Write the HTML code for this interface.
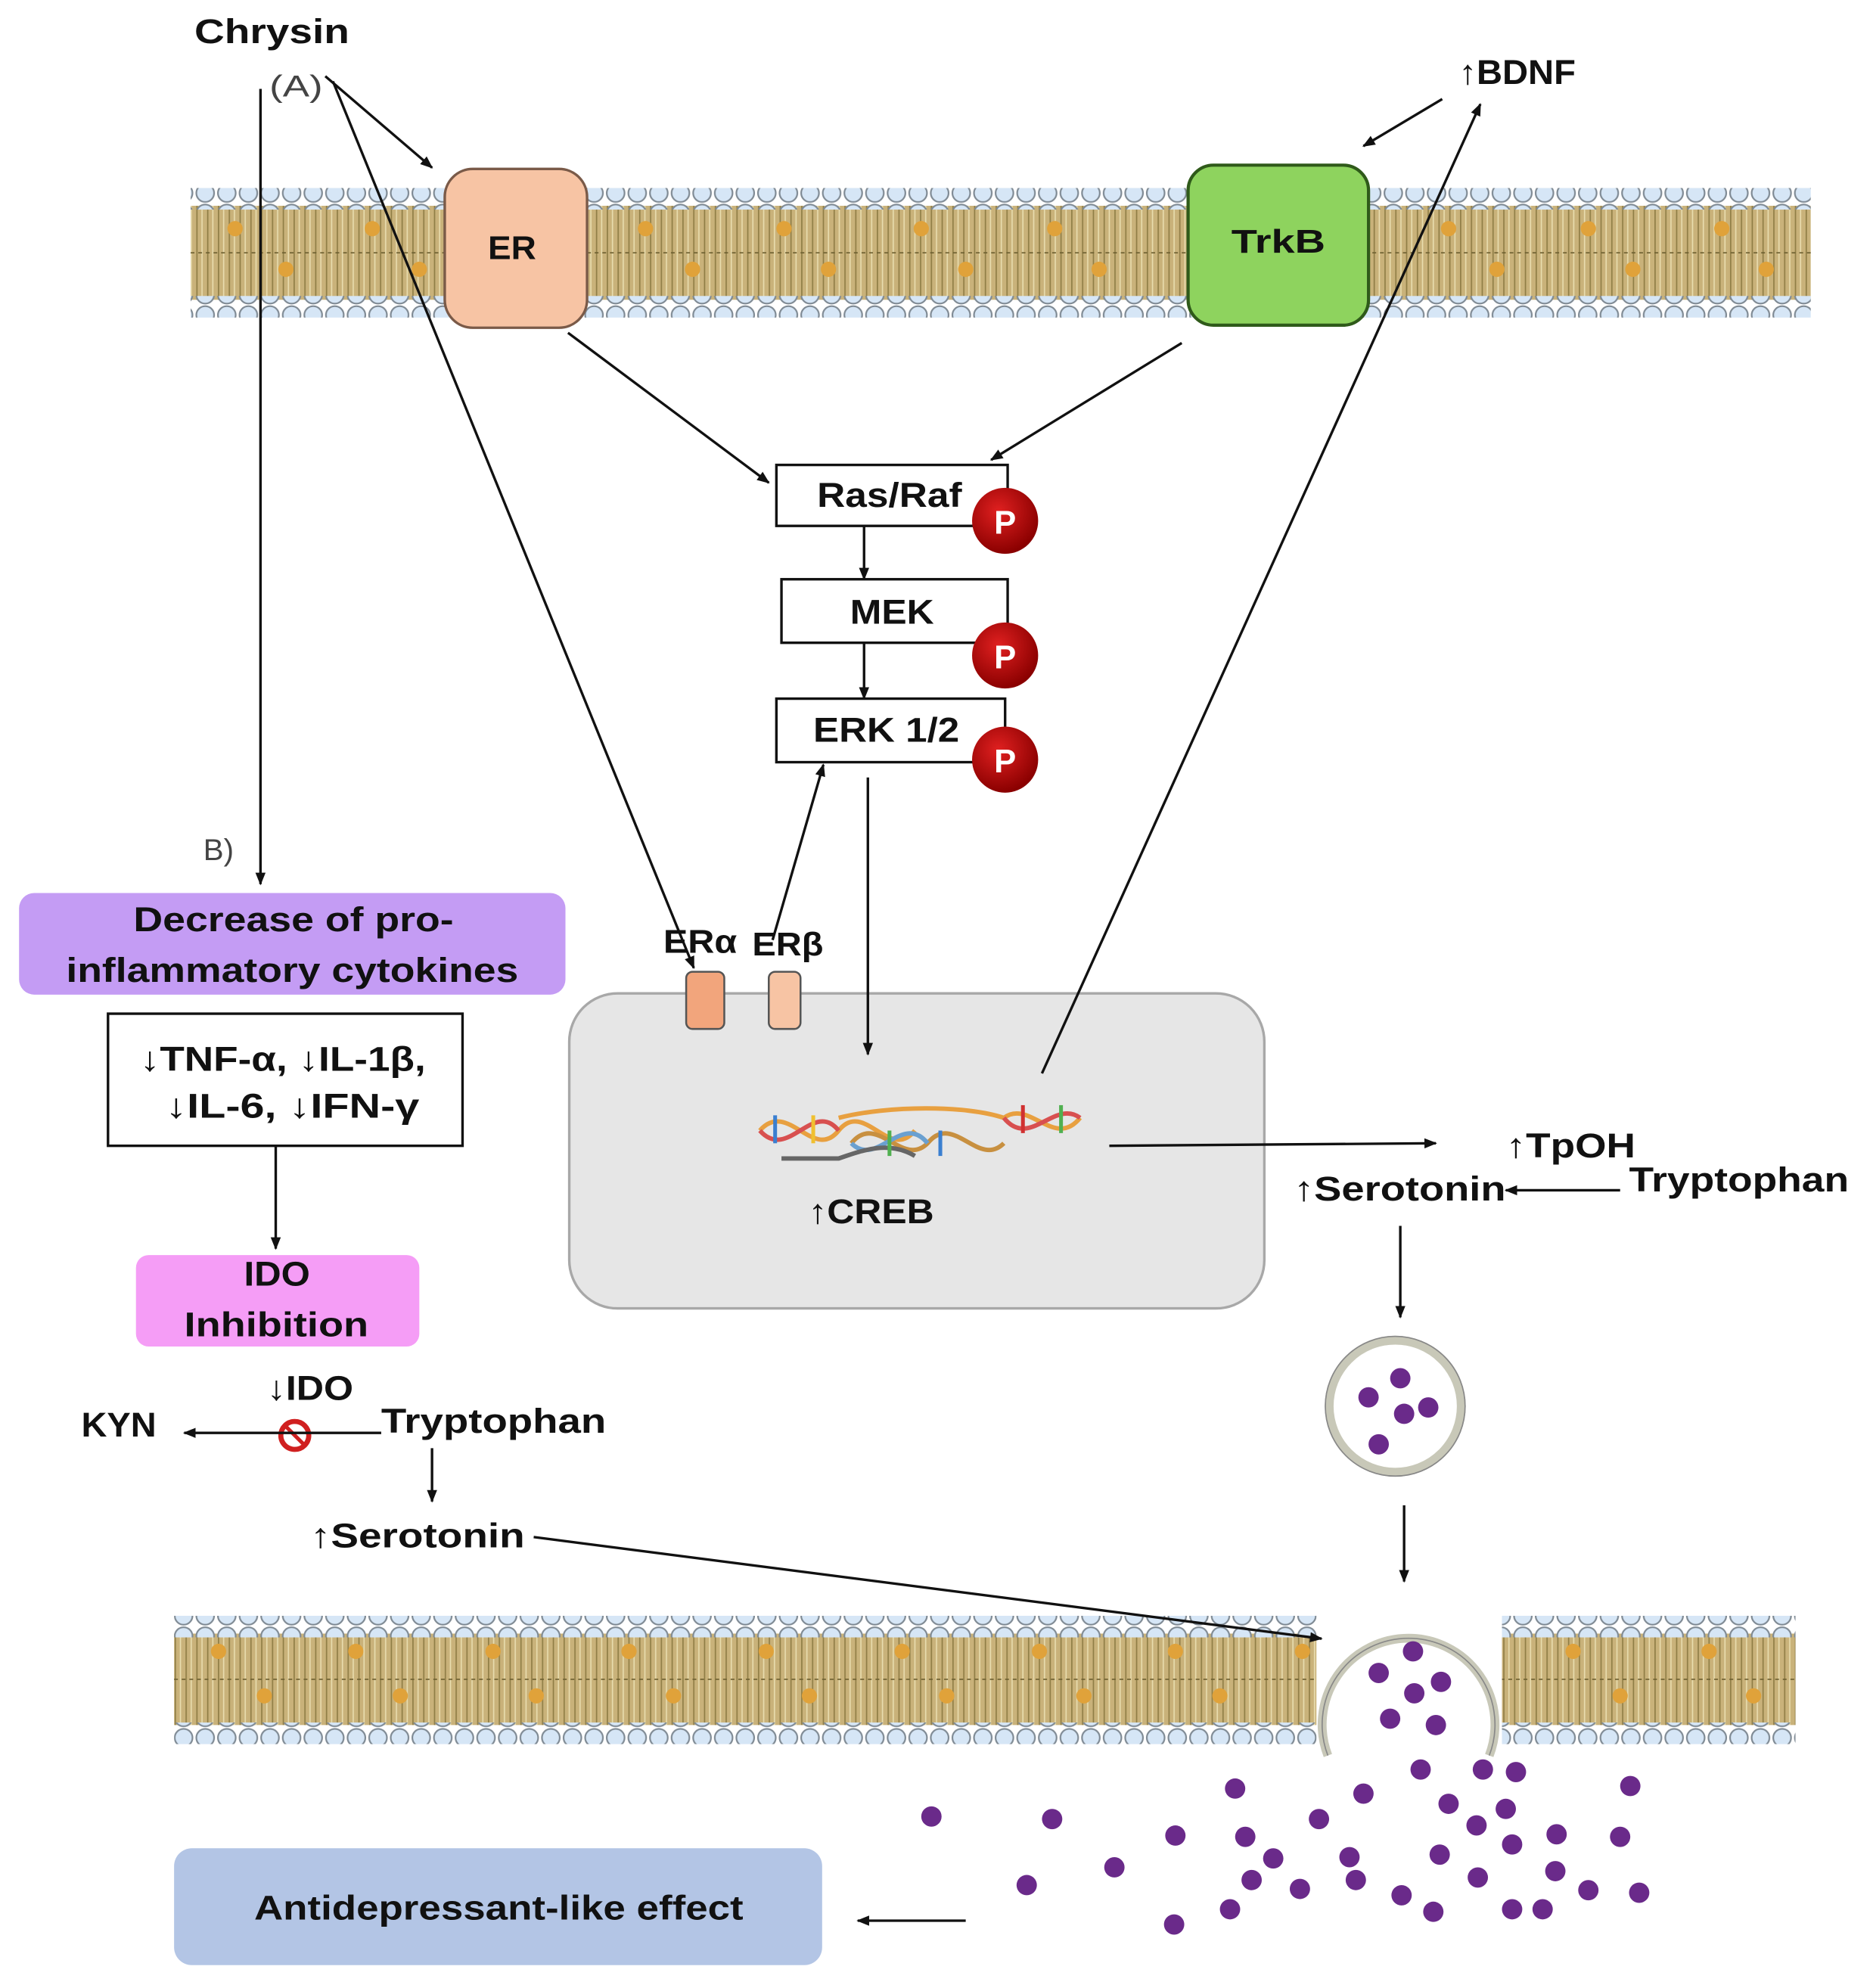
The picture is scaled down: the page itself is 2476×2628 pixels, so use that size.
<!DOCTYPE html>
<html><head><meta charset="utf-8"><style>
html,body{margin:0;padding:0;background:#fff;}
svg{display:block;}
text{font-family:"Liberation Sans",sans-serif;font-weight:bold;fill:#111;}
</style></head><body>
<svg width="2476" height="2628" viewBox="0 0 1474 1565" preserveAspectRatio="none" xmlns="http://www.w3.org/2000/svg">
<defs>
<marker id="ah" markerWidth="10" markerHeight="10" refX="9" refY="5" orient="auto" markerUnits="userSpaceOnUse"><path d="M0,1 L10,5 L0,9 z" fill="#111"/></marker>
<pattern id="heads" x="0" y="0" width="17" height="16" patternUnits="userSpaceOnUse"><circle cx="8.5" cy="8" r="7" fill="#d6e6f6" stroke="#7f8a94" stroke-width="1.3"/></pattern>
<pattern id="tails" x="0" y="0" width="8.5" height="10" patternUnits="userSpaceOnUse"><rect width="8.5" height="10" fill="#c9b27a"/><line x1="2" y1="0" x2="2" y2="10" stroke="#8f7d45" stroke-width="1"/><line x1="6" y1="0" x2="6" y2="10" stroke="#e8dcae" stroke-width="1"/></pattern>
<radialGradient id="pg" cx="40%" cy="35%" r="65%"><stop offset="0" stop-color="#e02020"/><stop offset="1" stop-color="#8a0000"/></radialGradient>
</defs>

<!-- membrane 1 -->
<rect x="150" y="162" width="1275" height="74" fill="url(#tails)"/>
<line x1="150" y1="199" x2="1425" y2="199" stroke="#6d5f30" stroke-width="1" stroke-dasharray="3,3"/>
<rect x="150" y="148" width="1275" height="17" fill="url(#heads)"/>
<rect x="150" y="233" width="1275" height="17" fill="url(#heads)"/>
<g fill="#e0a23a">
<circle cx="185" cy="180" r="6"/><circle cx="225" cy="212" r="6"/><circle cx="293" cy="180" r="6"/><circle cx="330" cy="212" r="6"/>
<circle cx="508" cy="180" r="6"/><circle cx="545" cy="212" r="6"/><circle cx="617" cy="180" r="6"/><circle cx="652" cy="212" r="6"/>
<circle cx="725" cy="180" r="6"/><circle cx="760" cy="212" r="6"/><circle cx="830" cy="180" r="6"/><circle cx="865" cy="212" r="6"/>
<circle cx="1140" cy="180" r="6"/><circle cx="1178" cy="212" r="6"/><circle cx="1250" cy="180" r="6"/><circle cx="1285" cy="212" r="6"/><circle cx="1355" cy="180" r="6"/><circle cx="1390" cy="212" r="6"/>
</g>

<!-- membrane 2 -->
<rect x="137" y="1286" width="1276" height="72" fill="url(#tails)"/>
<line x1="137" y1="1322" x2="1413" y2="1322" stroke="#6d5f30" stroke-width="1" stroke-dasharray="3,3"/>
<rect x="137" y="1272" width="1276" height="17" fill="url(#heads)"/>
<rect x="137" y="1356" width="1276" height="17" fill="url(#heads)"/>
<g fill="#e0a23a">
<circle cx="172" cy="1300" r="6"/><circle cx="208" cy="1335" r="6"/><circle cx="280" cy="1300" r="6"/><circle cx="315" cy="1335" r="6"/>
<circle cx="388" cy="1300" r="6"/><circle cx="422" cy="1335" r="6"/><circle cx="495" cy="1300" r="6"/><circle cx="530" cy="1335" r="6"/>
<circle cx="603" cy="1300" r="6"/><circle cx="637" cy="1335" r="6"/><circle cx="710" cy="1300" r="6"/><circle cx="745" cy="1335" r="6"/>
<circle cx="818" cy="1300" r="6"/><circle cx="853" cy="1335" r="6"/><circle cx="925" cy="1300" r="6"/><circle cx="960" cy="1335" r="6"/><circle cx="1025" cy="1300" r="6"/>
<circle cx="1238" cy="1300" r="6"/><circle cx="1275" cy="1335" r="6"/><circle cx="1345" cy="1300" r="6"/><circle cx="1380" cy="1335" r="6"/>
</g>
<!-- fusing vesicle -->
<rect x="1036" y="1262" width="146" height="122" fill="#fff"/>
<path d="M1045,1382 A68,68 0 1 1 1172,1382" fill="#fff" stroke="#c8c8b8" stroke-width="7"/>
<path d="M1045,1382 A68,68 0 1 1 1172,1382" fill="none" stroke="#888" stroke-width="1"/>

<!-- receptors -->
<rect x="350" y="133" width="112" height="125" rx="22" fill="#f7c4a4" stroke="#7a5a48" stroke-width="2"/>
<text x="384" y="204" font-size="26" textLength="38" lengthAdjust="spacingAndGlyphs">ER</text>
<rect x="935" y="130" width="142" height="126" rx="20" fill="#8ed35e" stroke="#2f5a1a" stroke-width="2.5"/>
<text x="969" y="199" font-size="26" textLength="74" lengthAdjust="spacingAndGlyphs">TrkB</text>

<!-- kinase cascade -->
<rect x="611" y="366" width="182" height="48" fill="#fff" stroke="#111" stroke-width="2"/>
<text x="643" y="399" font-size="27" textLength="114" lengthAdjust="spacingAndGlyphs">Ras/Raf</text>
<rect x="615" y="456" width="178" height="50" fill="#fff" stroke="#111" stroke-width="2"/>
<text x="669" y="491" font-size="27" textLength="66" lengthAdjust="spacingAndGlyphs">MEK</text>
<rect x="611" y="550" width="180" height="50" fill="#fff" stroke="#111" stroke-width="2"/>
<text x="640" y="584" font-size="27" textLength="115" lengthAdjust="spacingAndGlyphs">ERK  1/2</text>
<g font-size="26">
<circle cx="791" cy="410" r="26" fill="url(#pg)"/><text x="791" y="420" text-anchor="middle" style="fill:#fff">P</text>
<circle cx="791" cy="516" r="26" fill="url(#pg)"/><text x="791" y="526" text-anchor="middle" style="fill:#fff">P</text>
<circle cx="791" cy="598" r="26" fill="url(#pg)"/><text x="791" y="608" text-anchor="middle" style="fill:#fff">P</text>
</g>

<!-- nucleus -->
<rect x="448" y="782" width="547" height="248" rx="38" fill="#e6e6e6" stroke="#a8a8a8" stroke-width="2"/>
<rect x="540" y="765" width="30" height="45" rx="5" fill="#f2a57c" stroke="#555" stroke-width="1.5"/>
<rect x="605" y="765" width="25" height="45" rx="5" fill="#f7c4a4" stroke="#555" stroke-width="1.5"/>
<!-- DNA -->
<g fill="none" stroke-width="3.5">
<path d="M598,890 C620,865 640,915 660,890 C680,865 700,915 720,890" stroke="#e8a040"/>
<path d="M598,890 C620,915 640,865 660,890" stroke="#d85050"/>
<path d="M660,880 C700,870 760,870 790,880 C810,865 830,905 850,880" stroke="#e8a040"/>
<path d="M790,880 C810,905 830,865 850,880" stroke="#d85050"/>
<path d="M670,900 C690,875 710,920 730,900 C750,875 770,920 790,900" stroke="#c89040"/>
<path d="M670,900 C690,920 710,875 730,900" stroke="#6aa0d0"/>
<path d="M615,912 L660,912 C680,905 700,898 720,910" stroke="#666"/>
</g>
<g stroke-width="3"><line x1="610" y1="878" x2="610" y2="900" stroke="#3a7fd0"/><line x1="640" y1="878" x2="640" y2="900" stroke="#f0c030"/><line x1="700" y1="890" x2="700" y2="910" stroke="#50b050"/><line x1="740" y1="890" x2="740" y2="910" stroke="#3a7fd0"/><line x1="805" y1="870" x2="805" y2="892" stroke="#d03030"/><line x1="835" y1="870" x2="835" y2="892" stroke="#50b050"/></g>

<!-- left boxes -->
<rect x="15" y="703" width="430" height="80" rx="12" fill="#c49cf4"/>
<text x="105" y="733" font-size="27" textLength="252" lengthAdjust="spacingAndGlyphs">Decrease of pro-</text>
<text x="52" y="773" font-size="27" textLength="356" lengthAdjust="spacingAndGlyphs">inflammatory cytokines</text>
<rect x="85" y="798" width="279" height="104" fill="#fff" stroke="#111" stroke-width="2"/>
<text x="110" y="843" font-size="27" textLength="225" lengthAdjust="spacingAndGlyphs">↓TNF-α, ↓IL-1β,</text>
<text x="130" y="880" font-size="27" textLength="200" lengthAdjust="spacingAndGlyphs">↓IL-6, ↓IFN-γ</text>
<rect x="107" y="988" width="223" height="72" rx="10" fill="#f59df6"/>
<text x="192" y="1012" font-size="27" textLength="52" lengthAdjust="spacingAndGlyphs">IDO</text>
<text x="145" y="1052" font-size="27" textLength="145" lengthAdjust="spacingAndGlyphs">Inhibition</text>
<rect x="137" y="1455" width="510" height="92" rx="14" fill="#b3c5e5"/>
<text x="200" y="1511" font-size="27" textLength="385" lengthAdjust="spacingAndGlyphs">Antidepressant-like effect</text>

<!-- labels -->
<text x="153" y="34" font-size="27" textLength="122" lengthAdjust="spacingAndGlyphs">Chrysin</text>
<text x="212" y="76" font-size="24" style="font-weight:normal;fill:#444" textLength="42" lengthAdjust="spacingAndGlyphs">(A)</text>
<text x="160" y="677" font-size="24" style="font-weight:normal;fill:#444">B)</text>
<text x="1148" y="66" font-size="27" textLength="92" lengthAdjust="spacingAndGlyphs">↑BDNF</text>
<text x="522" y="750" font-size="26" textLength="58" lengthAdjust="spacingAndGlyphs">ERα</text>
<text x="592" y="752" font-size="26" textLength="56" lengthAdjust="spacingAndGlyphs">ERβ</text>
<text x="636" y="963" font-size="27" textLength="99" lengthAdjust="spacingAndGlyphs">↑CREB</text>
<text x="1185" y="911" font-size="27" textLength="102" lengthAdjust="spacingAndGlyphs">↑TpOH</text>
<text x="1018" y="945" font-size="27" textLength="167" lengthAdjust="spacingAndGlyphs">↑Serotonin</text>
<text x="1282" y="938" font-size="27" textLength="173" lengthAdjust="spacingAndGlyphs">Tryptophan</text>
<text x="210" y="1102" font-size="27" textLength="68" lengthAdjust="spacingAndGlyphs">↓IDO</text>
<text x="64" y="1131" font-size="27" textLength="59" lengthAdjust="spacingAndGlyphs">KYN</text>
<text x="300" y="1128" font-size="27" textLength="177" lengthAdjust="spacingAndGlyphs">Tryptophan</text>
<text x="244" y="1218" font-size="27" textLength="169" lengthAdjust="spacingAndGlyphs">↑Serotonin</text>

<!-- inhibition symbol -->
<circle cx="232" cy="1130" r="11" fill="#fff" stroke="#d02020" stroke-width="4"/>
<line x1="225" y1="1123" x2="239" y2="1137" stroke="#d02020" stroke-width="3"/>

<!-- arrows -->
<g stroke="#111" stroke-width="2" fill="none" marker-end="url(#ah)">
<line x1="256" y1="60" x2="340" y2="132"/>
<line x1="262" y1="64" x2="546" y2="762"/>
<line x1="205" y1="70" x2="205" y2="696"/>
<line x1="447" y1="262" x2="605" y2="380"/>
<line x1="930" y1="270" x2="780" y2="362"/>
<line x1="1135" y1="78" x2="1073" y2="115"/>
<line x1="820" y1="845" x2="1165" y2="82"/>
<line x1="680" y1="414" x2="680" y2="456"/>
<line x1="680" y1="506" x2="680" y2="550"/>
<line x1="608" y1="740" x2="648" y2="602"/>
<line x1="683" y1="612" x2="683" y2="830"/>
<line x1="217" y1="902" x2="217" y2="983"/>
<line x1="300" y1="1128" x2="145" y2="1128"/>
<line x1="340" y1="1140" x2="340" y2="1182"/>
<line x1="420" y1="1210" x2="1040" y2="1290"/>
<line x1="873" y1="902" x2="1130" y2="900"/>
<line x1="1275" y1="937" x2="1185" y2="937"/>
<line x1="1102" y1="965" x2="1102" y2="1037"/>
<line x1="1105" y1="1185" x2="1105" y2="1245"/>
<line x1="760" y1="1512" x2="675" y2="1512"/>
</g>

<!-- vesicle -->
<circle cx="1098" cy="1107" r="52" fill="#fff" stroke="#c8c8b8" stroke-width="7"/>
<circle cx="1098" cy="1107" r="55" fill="none" stroke="#888" stroke-width="1"/>
<g fill="#6a2a8a">
<circle cx="1102" cy="1085" r="8"/><circle cx="1077" cy="1100" r="8"/><circle cx="1124" cy="1108" r="8"/><circle cx="1105" cy="1113" r="8"/><circle cx="1085" cy="1137" r="8"/>
<circle cx="1112" cy="1300" r="8"/><circle cx="1085" cy="1317" r="8"/><circle cx="1134" cy="1324" r="8"/><circle cx="1113" cy="1333" r="8"/><circle cx="1094" cy="1353" r="8"/><circle cx="1130" cy="1358" r="8"/>
<circle cx="1118" cy="1393" r="8"/><circle cx="1167" cy="1393" r="8"/><circle cx="1193" cy="1395" r="8"/><circle cx="972" cy="1408" r="8"/><circle cx="1283" cy="1406" r="8"/>
<circle cx="1073" cy="1412" r="8"/><circle cx="1140" cy="1420" r="8"/><circle cx="1185" cy="1424" r="8"/><circle cx="733" cy="1430" r="8"/><circle cx="828" cy="1432" r="8"/>
<circle cx="1038" cy="1432" r="8"/><circle cx="980" cy="1446" r="8"/><circle cx="1162" cy="1437" r="8"/><circle cx="1225" cy="1444" r="8"/><circle cx="1275" cy="1446" r="8"/>
<circle cx="925" cy="1445" r="8"/><circle cx="1062" cy="1462" r="8"/><circle cx="1002" cy="1463" r="8"/><circle cx="1190" cy="1452" r="8"/><circle cx="1133" cy="1460" r="8"/>
<circle cx="877" cy="1470" r="8"/><circle cx="1163" cy="1478" r="8"/><circle cx="1224" cy="1473" r="8"/><circle cx="808" cy="1484" r="8"/><circle cx="985" cy="1480" r="8"/>
<circle cx="1023" cy="1487" r="8"/><circle cx="1067" cy="1480" r="8"/><circle cx="1103" cy="1492" r="8"/><circle cx="1250" cy="1488" r="8"/><circle cx="1290" cy="1490" r="8"/>
<circle cx="968" cy="1503" r="8"/><circle cx="1128" cy="1505" r="8"/><circle cx="1190" cy="1503" r="8"/><circle cx="1214" cy="1503" r="8"/><circle cx="924" cy="1515" r="8"/>
</g>
</svg>
</body></html>
